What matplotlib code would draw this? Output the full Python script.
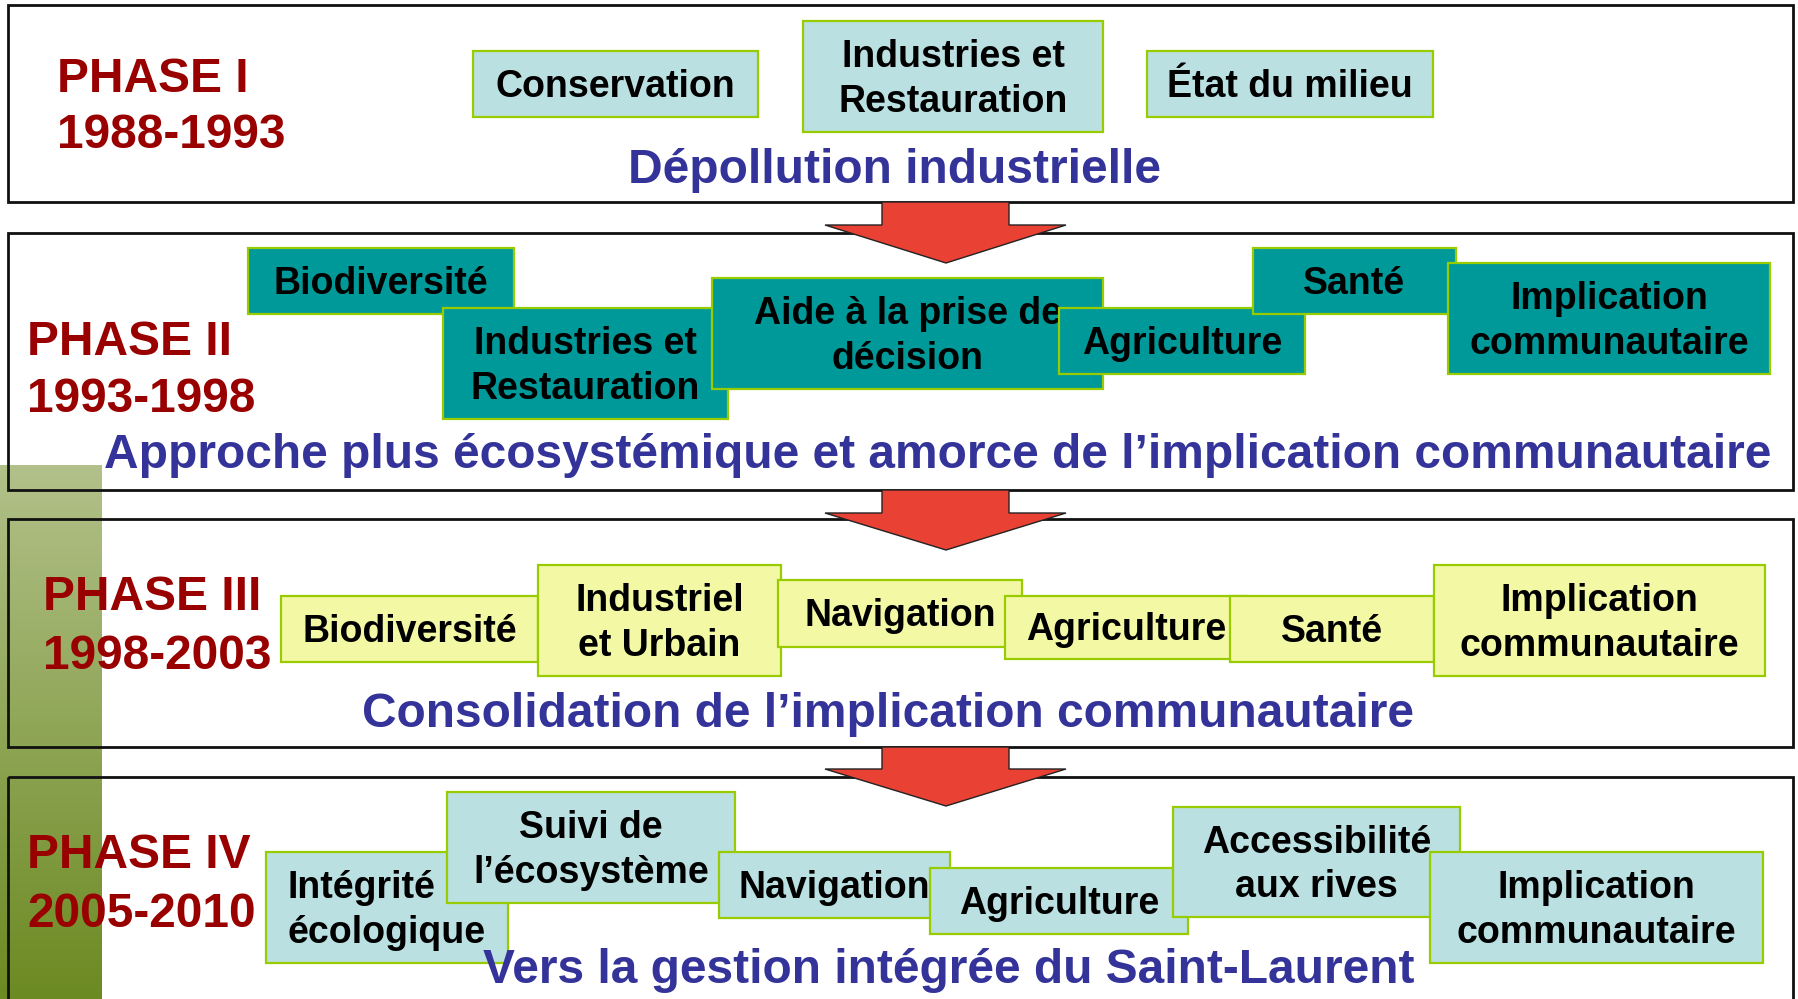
import matplotlib.pyplot as plt
import matplotlib.patches as patches
import numpy as np

plt.rcParams['font.family'] = ['Liberation Sans', 'DejaVu Sans']

# text content
phases = ['PHASE I', 'PHASE II', 'PHASE III', 'PHASE IV']
periods = ['1988-1993', '1993-1998', '1998-2003', '2005-2010']
themes = ['Dépollution industrielle',
          'Approche plus écosystémique et amorce de l’implication communautaire',
          'Consolidation de l’implication communautaire',
          'Vers la gestion intégrée du Saint-Laurent']

labels1 = ['Conservation', 'Industries et\nRestauration', 'État du milieu']
labels2 = ['Biodiversité', 'Industries et\nRestauration', 'Aide à la prise de\ndécision',
           'Agriculture', 'Santé', 'Implication\ncommunautaire']
labels3 = ['Biodiversité', 'Industriel\net Urbain', 'Navigation', 'Agriculture', 'Santé',
           'Implication\ncommunautaire']
labels4 = ['Intégrité\nécologique', 'Suivi de\nl’écosystème', 'Navigation', 'Agriculture',
           'Accessibilité\naux rives', 'Implication\ncommunautaire']

# layout (pixels, y down)
boxes1 = [(473, 51, 758, 117), (803, 21, 1103, 132), (1147, 51, 1433, 117)]
boxes2 = [(248, 248, 514, 314), (443, 308, 728, 419), (712, 278, 1103, 389),
          (1059, 308, 1305, 374), (1253, 248, 1456, 314), (1448, 263, 1770, 374)]
boxes3 = [(281, 596, 538, 662), (538, 565, 781, 676), (778, 580, 1022, 647),
          (1005, 596, 1248, 659), (1230, 596, 1434, 662), (1434, 565, 1765, 676)]
boxes4 = [(266, 852, 508, 963), (447, 792, 735, 903), (719, 852, 950, 918),
          (930, 868, 1188, 934), (1173, 807, 1460, 917), (1430, 852, 1763, 963)]

frames = [(8, 5, 1793, 202), (8, 233, 1793, 490), (8, 519, 1793, 747), (8, 777, 1793, 1010)]
arrows = [(202, 225, 263), (490, 513, 550), (747, 769, 806)]
label_x = [57, 27, 43, 27]
label_y = [(92, 148), (355, 412), (610, 669), (868, 927)]
theme_x = [894, 938, 888, 949]
theme_y = [183, 468, 727, 983]

lightblue = '#bae0e1'
teal = '#009999'
yellow = '#f3f8a4'
border = '#99cc00'
darkred = '#990000'
blue = '#333399'

fig = plt.figure(figsize=(17.98, 9.99), dpi=100)
ax = fig.add_axes([0, 0, 1, 1])
ax.set_xlim(0, 1798)
ax.set_ylim(999, 0)
ax.axis('off')

# olive gradient strip on the left
grad = np.linspace(0, 1, 256).reshape(-1, 1)
top = np.array([178, 193, 138]) / 255
bot = np.array([108, 138, 34]) / 255
img = top + (bot - top) * grad[:, :, None]
ax.imshow(img, extent=[0, 102, 999, 465], aspect='auto', zorder=1)

for (x0, y0, x1, y1) in frames:
    ax.add_patch(patches.Rectangle((x0, y0), x1 - x0, y1 - y0, fill=False,
                                   edgecolor='#111111', linewidth=2, zorder=2))

for (yb, yh, yt) in arrows:
    pts = [(882, yb), (1009, yb), (1009, yh), (1066, yh), (946, yt), (825, yh), (882, yh)]
    ax.add_patch(patches.Polygon(pts, closed=True, facecolor='#e94234',
                                 edgecolor='#222222', linewidth=1, zorder=3))

z = 4
for labels, boxes, color in [(labels1, boxes1, lightblue), (labels2, boxes2, teal),
                             (labels3, boxes3, yellow), (labels4, boxes4, lightblue)]:
    for lab, (x0, y0, x1, y1) in zip(labels, boxes):
        ax.add_patch(patches.Rectangle((x0, y0), x1 - x0, y1 - y0, facecolor=color,
                                       edgecolor=border, linewidth=1.6, zorder=z))
        ax.text((x0 + x1) / 2, (y0 + y1) / 2 + 3, lab, ha='center', va='center',
                multialignment='left' if lab.startswith('Intégrité') else 'center',
                fontsize=27, fontweight='bold', color='black', zorder=z + 0.5,
                linespacing=1.32)
        z += 1

for i in range(4):
    ax.text(label_x[i], label_y[i][0], phases[i], fontsize=34.5, fontweight='bold',
            color=darkred, va='baseline', ha='left', zorder=50)
    ax.text(label_x[i], label_y[i][1], periods[i], fontsize=34.5, fontweight='bold',
            color=darkred, va='baseline', ha='left', zorder=50)
    ax.text(theme_x[i], theme_y[i], themes[i], fontsize=34.5, fontweight='bold',
            color=blue, va='baseline', ha='center', zorder=50)

fig.savefig('out.png', dpi=100)
